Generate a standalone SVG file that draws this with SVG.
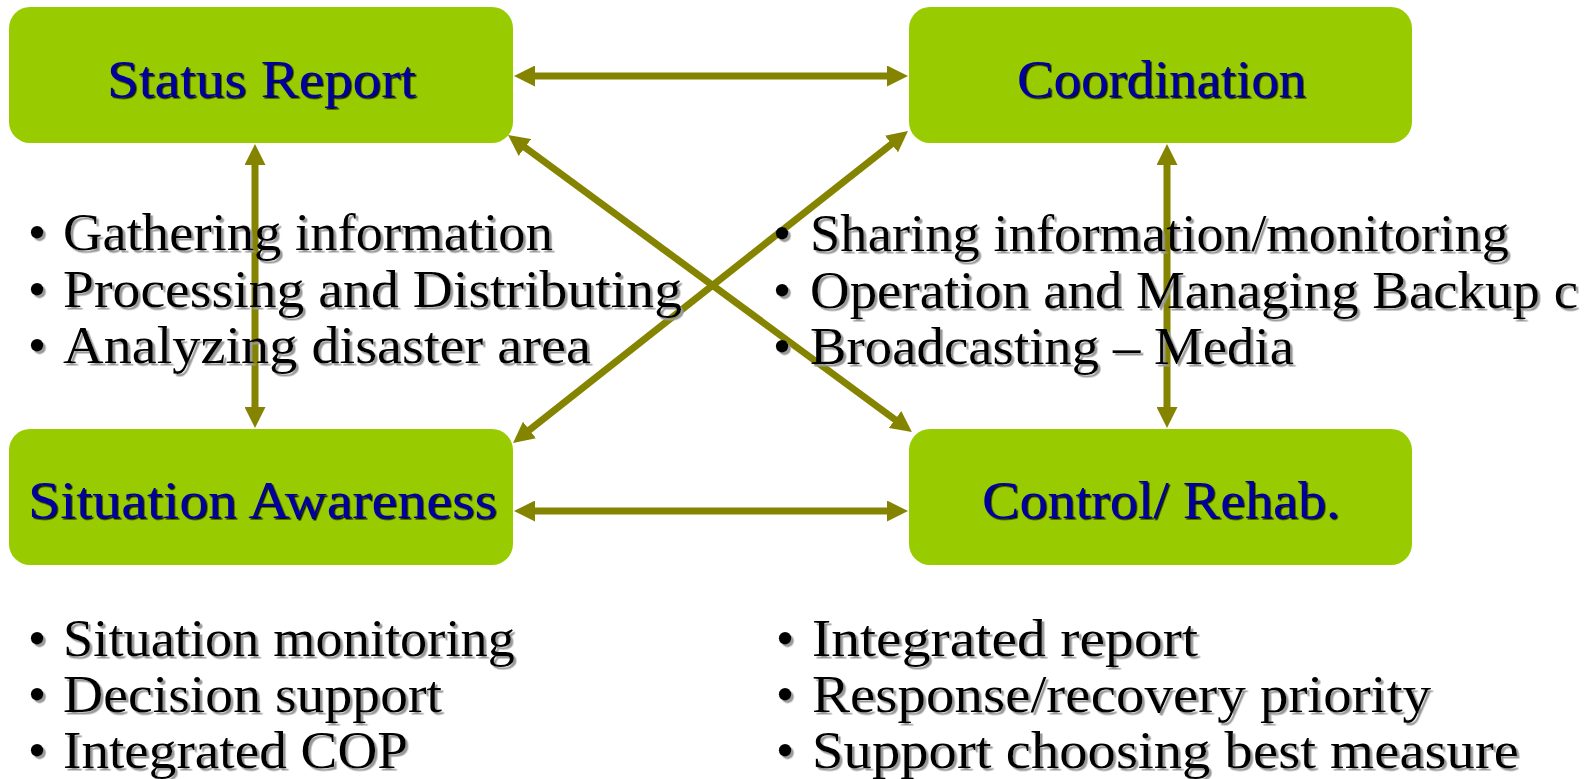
<svg xmlns="http://www.w3.org/2000/svg" width="1591" height="779" viewBox="0 0 1591 779">
  <style>
    .box { fill: #99CC00; }
    .title { font-family: "Liberation Serif", "Times New Roman", serif; font-size: 52px; fill: #00009C; text-anchor: middle; filter: url(#tshadow); }
    .item { font-family: "Liberation Serif", "Times New Roman", serif; font-size: 52px; fill: #000000; filter: url(#ishadow); }
    .conn { stroke: #848400; stroke-width: 7; fill: none; marker-start: url(#arr); marker-end: url(#arr); }
  </style>
  <defs>
    <marker id="arr" viewBox="0 0 21 21" refX="7" refY="10.5" markerWidth="21" markerHeight="21" markerUnits="userSpaceOnUse" orient="auto-start-reverse">
      <path d="M0,0 L21,10.5 L0,21 z" fill="#848400"/>
    </marker>
    <filter id="ishadow" x="-5%" y="-20%" width="110%" height="140%">
      <feDropShadow dx="2.5" dy="2.5" stdDeviation="0.6" flood-color="#9a9a9a" flood-opacity="1"/>
    </filter>
    <filter id="tshadow" x="-5%" y="-20%" width="110%" height="140%">
      <feDropShadow dx="1.5" dy="1.5" stdDeviation="0.3" flood-color="#000000" flood-opacity="0.9"/>
    </filter>
  </defs>
  <rect width="1591" height="779" fill="#ffffff"/>

  <g id="connectors">
    <line class="conn" x1="528" y1="76" x2="894" y2="76"/>
    <line class="conn" x1="528" y1="511" x2="894" y2="511"/>
    <line class="conn" x1="255" y1="158" x2="255" y2="414"/>
    <line class="conn" x1="1167" y1="158" x2="1167" y2="414"/>
    <line class="conn" x1="519.3" y1="143.3" x2="900.7" y2="423.7"/>
    <line class="conn" x1="897" y1="139.7" x2="524" y2="434.3"/>
  </g>

  <g id="status-report">
    <rect class="box" x="9" y="7" width="504" height="136" rx="21"/>
    <text class="title" x="261.5" y="97" textLength="309" lengthAdjust="spacingAndGlyphs">Status Report</text>
  </g>
  <g id="coordination">
    <rect class="box" x="909" y="7" width="503" height="136" rx="21"/>
    <text class="title" x="1161.5" y="97" textLength="289" lengthAdjust="spacingAndGlyphs">Coordination</text>
  </g>
  <g id="situation-awareness">
    <rect class="box" x="9" y="429" width="504" height="136" rx="21"/>
    <text class="title" x="262.5" y="518" textLength="469" lengthAdjust="spacingAndGlyphs">Situation Awareness</text>
  </g>
  <g id="control-rehab">
    <rect class="box" x="909" y="429" width="503" height="136" rx="21"/>
    <text class="title" x="1161" y="518" textLength="358" lengthAdjust="spacingAndGlyphs">Control/ Rehab.</text>
  </g>

  <g id="status-report-items">
    <text class="item" x="28" y="250">•</text>
    <text class="item" x="63" y="250" textLength="490" lengthAdjust="spacingAndGlyphs">Gathering information</text>
    <text class="item" x="28" y="307">•</text>
    <text class="item" x="63" y="307" textLength="619" lengthAdjust="spacingAndGlyphs">Processing and Distributing</text>
    <text class="item" x="28" y="363">•</text>
    <text class="item" x="63" y="363" textLength="528" lengthAdjust="spacingAndGlyphs">Analyzing disaster area</text>
  </g>
  <g id="coordination-items">
    <text class="item" x="773" y="251">•</text>
    <text class="item" x="810" y="251" textLength="699" lengthAdjust="spacingAndGlyphs">Sharing information/monitoring</text>
    <text class="item" x="773" y="308">•</text>
    <text class="item" x="810" y="308" textLength="768" lengthAdjust="spacingAndGlyphs">Operation and Managing Backup c</text>
    <text class="item" x="773" y="364">•</text>
    <text class="item" x="810" y="364" textLength="484" lengthAdjust="spacingAndGlyphs">Broadcasting – Media</text>
  </g>
  <g id="situation-awareness-items">
    <text class="item" x="28" y="656">•</text>
    <text class="item" x="63" y="656" textLength="452" lengthAdjust="spacingAndGlyphs">Situation monitoring</text>
    <text class="item" x="28" y="712">•</text>
    <text class="item" x="63" y="712" textLength="379" lengthAdjust="spacingAndGlyphs">Decision support</text>
    <text class="item" x="28" y="768">•</text>
    <text class="item" x="63" y="768" textLength="345" lengthAdjust="spacingAndGlyphs">Integrated COP</text>
  </g>
  <g id="control-rehab-items">
    <text class="item" x="776" y="656">•</text>
    <text class="item" x="812" y="656" textLength="386" lengthAdjust="spacingAndGlyphs">Integrated report</text>
    <text class="item" x="776" y="712">•</text>
    <text class="item" x="812" y="712" textLength="619" lengthAdjust="spacingAndGlyphs">Response/recovery priority</text>
    <text class="item" x="776" y="768">•</text>
    <text class="item" x="812" y="768" textLength="707" lengthAdjust="spacingAndGlyphs">Support choosing best measure</text>
  </g>
</svg>
